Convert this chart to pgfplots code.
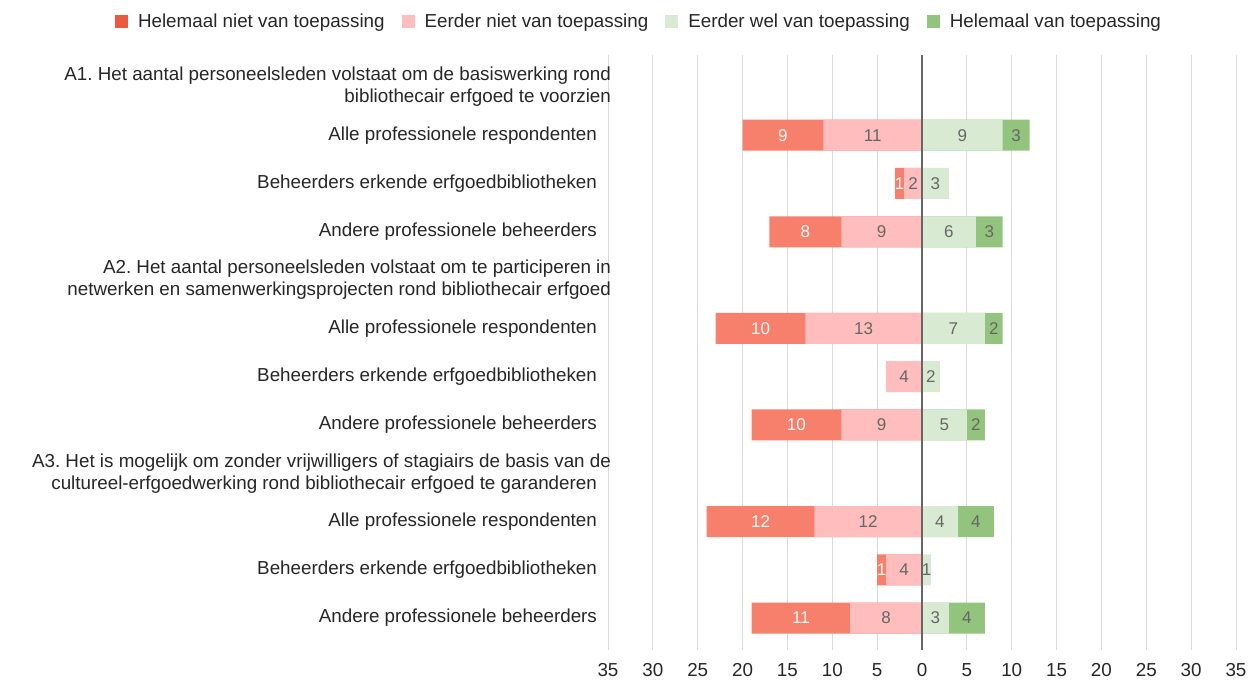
\documentclass[border=0pt]{standalone}
\usepackage{fontspec}
\setmainfont{Liberation Sans}
\usepackage{pgfplots}
\pgfplotsset{compat=1.18}
\frenchspacing
\definecolor{hn}{HTML}{F6806B}
\definecolor{hnleg}{HTML}{EC5A3E}
\definecolor{en}{HTML}{FFBDBD}
\definecolor{ew}{HTML}{D9EAD3}
\definecolor{hv}{HTML}{93C47D}
\definecolor{gridgray}{HTML}{D9D9D9}
\definecolor{zerol}{HTML}{666666}
\definecolor{lblgray}{HTML}{666666}
\newcommand{\lblfont}{\fontsize{9.4}{11}\selectfont}
\newcommand{\numfont}{\fontsize{8.5}{10}\selectfont}
\newcommand{\hd}{\hspace*{-7pt}}
\begin{document}
\begin{tikzpicture}
\begin{axis}[
  scale only axis, width=314pt, height=297.5pt,
  xmin=-35, xmax=35, ymin=-0.66, ymax=11.66,
  xtick={-35,-30,...,35},
  xticklabels={35,30,25,20,15,10,5,0,5,10,15,20,25,30,35},
  ytick={0,1,2,3,4,5,6,7,8,9,10,11},
  yticklabels={
    {Andere professionele beheerders},
    {Beheerders erkende erfgoedbibliotheken},
    {Alle professionele respondenten},
    {A3. Het is mogelijk om zonder vrijwilligers of stagiairs de basis van de\hd\\cultureel-erfgoedwerking rond bibliothecair erfgoed te garanderen},
    {Andere professionele beheerders},
    {Beheerders erkende erfgoedbibliotheken},
    {Alle professionele respondenten},
    {A2. Het aantal personeelsleden volstaat om te participeren in\hd\\netwerken en samenwerkingsprojecten rond bibliothecair erfgoed\hd},
    {Andere professionele beheerders},
    {Beheerders erkende erfgoedbibliotheken},
    {Alle professionele respondenten},
    {A1. Het aantal personeelsleden volstaat om de basiswerking rond\hd\\bibliothecair erfgoed te voorzien\hd}},
  xmajorgrids, grid style={line width=0.5pt, draw=gridgray},
  axis line style={draw=none},
  major tick length=0pt,
  tick label style={font=\lblfont, text=black!85},
  yticklabel style={align=right, xshift=-2pt},
  xticklabel style={yshift=-3pt},
  /pgf/number format/assume math mode=true,
  bar width=15.5pt,
  clip=false,
  legend style={at={(0.051,1.0555)}, anchor=center, draw=none, fill=none,
    legend columns=4, font=\lblfont, text=black!85,
    /tikz/every odd column/.append style={column sep=3pt},
    /tikz/every even column/.append style={column sep=6.5pt}},
  legend image code/.code={\fill[#1, draw=none] (0pt,-3.25pt) rectangle (6.5pt,3.25pt);},
]
\addlegendimage{fill=hnleg}
\addlegendentry{Helemaal niet van toepassing}
\addlegendimage{fill=en}
\addlegendentry{Eerder niet van toepassing}
\addlegendimage{fill=ew}
\addlegendentry{Eerder wel van toepassing}
\addlegendimage{fill=hv}
\addlegendentry{Helemaal van toepassing}

% negative side: Helemaal niet (outer, cumulative) and Eerder niet (inner)
\addplot[xbar, bar shift=0pt, fill=hn, draw=none, forget plot] coordinates
  {(-20,10) (-3,9) (-17,8) (-23,6) (-19,4) (-24,2) (-5,1) (-19,0)};
\addplot[xbar, bar shift=0pt, fill=en, draw=none, forget plot] coordinates
  {(-11,10) (-2,9) (-9,8) (-13,6) (-4,5) (-9,4) (-12,2) (-4,1) (-8,0)};
% positive side: Helemaal van (outer, cumulative) and Eerder wel (inner)
\addplot[xbar, bar shift=0pt, fill=hv, draw=none, forget plot] coordinates
  {(12,10) (9,8) (9,6) (7,4) (8,2) (7,0)};
\addplot[xbar, bar shift=0pt, fill=ew, draw=none, forget plot] coordinates
  {(9,10) (3,9) (6,8) (7,6) (2,5) (5,4) (4,2) (1,1) (3,0)};

% value labels
\addplot[forget plot, only marks, mark=none, nodes near coords,
  point meta=explicit symbolic,
  every node near coord/.append style={anchor=center, font=\numfont, text=white!95!hn, inner sep=0pt}]
  table[meta=l] {
x y l
-15.5 10 9
-2.5 9 1
-13 8 8
-18 6 10
-14 4 10
-18 2 12
-4.5 1 1
-13.5 0 11
};
\addplot[forget plot, only marks, mark=none, nodes near coords,
  point meta=explicit symbolic,
  every node near coord/.append style={anchor=center, font=\numfont, text=lblgray, inner sep=0pt}]
  table[meta=l] {
x y l
-5.5 10 11
-1 9 2
-4.5 8 9
-6.5 6 13
-2 5 4
-4.5 4 9
-6 2 12
-2 1 4
-4 0 8
4.5 10 9
10.5 10 3
1.5 9 3
3 8 6
7.5 8 3
3.5 6 7
8 6 2
1 5 2
2.5 4 5
6 4 2
2 2 4
6 2 4
0.5 1 1
1.5 0 3
5 0 4
};
\draw[zerol, line width=0.6pt] (axis cs:0,-0.66) -- (axis cs:0,11.66);
\coordinate (bl) at (rel axis cs:0,0);
\coordinate (tr) at (rel axis cs:1,1);
\end{axis}
\pgfresetboundingbox
\useasboundingbox ([shift={(-304pt,-15pt)}]bl) rectangle ([shift={(6.5pt,27.5pt)}]tr);
\end{tikzpicture}
\end{document}
